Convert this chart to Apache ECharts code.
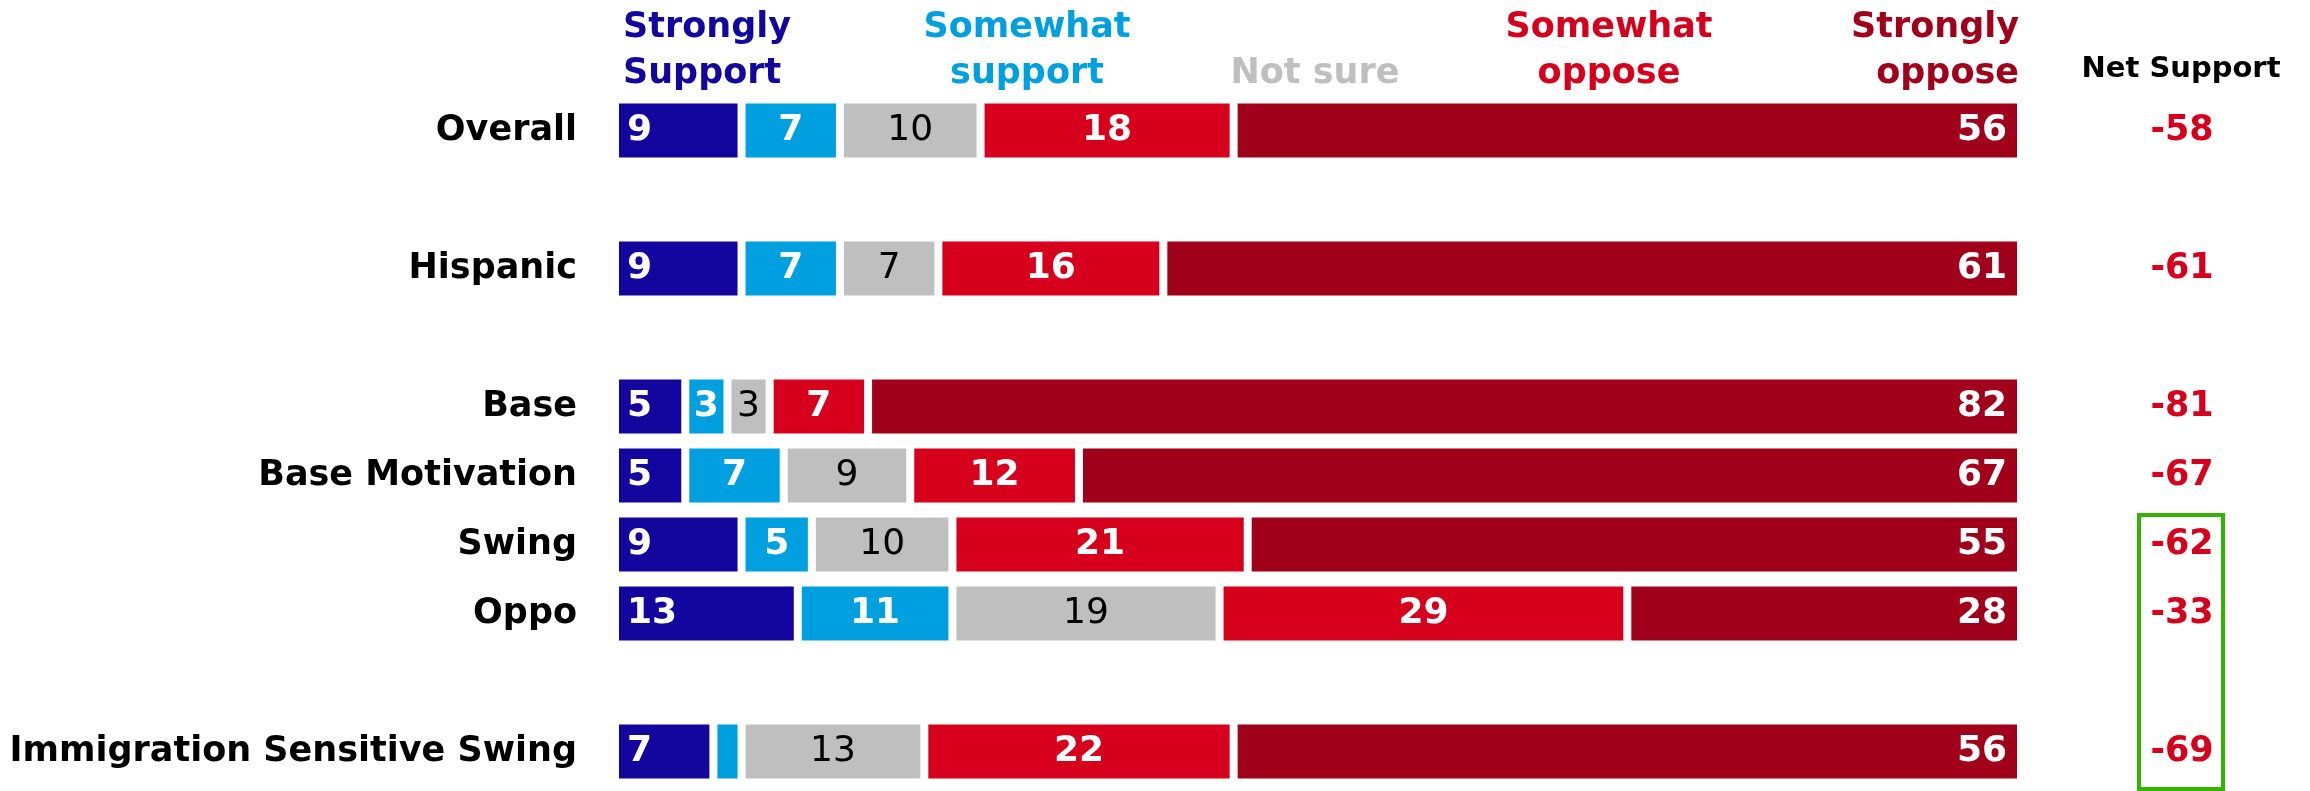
<!DOCTYPE html>
<html>
<head>
<meta charset="utf-8">
<script src="https://cdn.jsdelivr.net/npm/echarts@6/dist/echarts.min.js"></script>
<style>
  html, body { margin: 0; padding: 0; background: #fff; }
  #chart { width: 2310px; height: 791px; }
</style>
</head>
<body>
<div id="chart"></div>
<script>
// blank entries are spacer rows between groups
const groups = ['Overall', ' ', 'Hispanic', '  ', 'Base', 'Base Motivation', 'Swing', 'Oppo', '   ', 'Immigration Sensitive Swing'];

const stronglySupport = [9, null, 9, null, 5, 5, 9, 13, null, 7];
const somewhatSupport = [7, null, 7, null, 3, 7, 5, 11, null, 2];
const notSure         = [10, null, 7, null, 3, 9, 10, 19, null, 13];
const somewhatOppose  = [18, null, 16, null, 7, 12, 21, 29, null, 22];
const stronglyOppose  = [56, null, 61, null, 82, 67, 55, 28, null, 56];
const netSupport      = [-58, null, -61, null, -81, -67, -62, -33, null, -69];

const seriesNames = ['Strongly Support', 'Somewhat support', 'Not sure', 'Somewhat oppose', 'Strongly oppose'];
const headerText  = ['Strongly\nSupport', 'Somewhat\nsupport', 'Not sure', 'Somewhat\noppose', 'Strongly\noppose'];
const colors = ['#12069e', '#009fdf', '#bfbfbf', '#d6001c', '#a0001a'];

const FONT = 'DejaVu Sans';

const chart = echarts.init(document.getElementById('chart'));

function barSeries(idx, data, label) {
  return {
    name: seriesNames[idx],
    type: 'bar',
    stack: 'total',
    data: data,
    barWidth: 62,
    itemStyle: { color: colors[idx], borderColor: '#fff', borderWidth: 4 },
    label: Object.assign({
      show: true,
      fontFamily: FONT,
      fontSize: 36,
      fontWeight: 'bold',
      color: '#fff',
      formatter: p => (p.value > 2 ? p.value : '')
    }, label),
    emphasis: { disabled: true }
  };
}

const headerStyle = { fontFamily: FONT, fontSize: 35, fontWeight: 'bold', lineHeight: 46 };

const option = {
  animation: false,
  grid: { left: 615, right: 289, top: 96, bottom: 5 },
  xAxis: {
    type: 'value', min: 0, max: 100,
    show: false
  },
  yAxis: [
    {
      type: 'category',
      data: groups,
      inverse: true,
      axisLine: { show: false },
      axisTick: { show: false },
      axisLabel: {
        interval: 0,
        margin: 38,
        fontFamily: FONT,
        fontSize: 35,
        fontWeight: 'bold',
        color: '#000'
      }
    },
    {
      type: 'category',
      data: groups,
      inverse: true,
      position: 'right',
      axisLine: { show: false },
      axisTick: { show: false },
      axisLabel: {
        interval: 0,
        margin: 161,
        align: 'center',
        fontFamily: FONT,
        fontSize: 35,
        fontWeight: 'bold',
        color: '#d6001c',
        formatter: (v, i) => (netSupport[i] == null ? '' : String(netSupport[i]))
      }
    }
  ],
  series: [
    barSeries(0, stronglySupport, { position: 'insideLeft', distance: 12 }),
    barSeries(1, somewhatSupport, { position: 'inside' }),
    barSeries(2, notSure, { position: 'inside', color: '#000', fontWeight: 'normal' }),
    barSeries(3, somewhatOppose, { position: 'inside' }),
    barSeries(4, stronglyOppose, { position: 'insideRight', distance: 14 })
  ],
  graphic: [
    { type: 'text', x: 623, y: 51, style: Object.assign({ text: headerText[0], fill: colors[0], align: 'left', verticalAlign: 'middle' }, headerStyle) },
    { type: 'text', x: 1027, y: 51, style: Object.assign({ text: headerText[1], fill: colors[1], align: 'center', verticalAlign: 'middle' }, headerStyle) },
    { type: 'text', x: 1315, y: 74, style: Object.assign({ text: headerText[2], fill: colors[2], align: 'center', verticalAlign: 'middle' }, headerStyle) },
    { type: 'text', x: 1609, y: 51, style: Object.assign({ text: headerText[3], fill: colors[3], align: 'center', verticalAlign: 'middle' }, headerStyle) },
    { type: 'text', x: 2019, y: 51, style: Object.assign({ text: headerText[4], fill: colors[4], align: 'right', verticalAlign: 'middle' }, headerStyle) },
    { type: 'text', x: 2181, y: 69, style: { text: 'Net Support', fill: '#000', align: 'center', verticalAlign: 'middle', fontFamily: FONT, fontSize: 29, fontWeight: 'bold' } },
    { type: 'rect', shape: { x: 2139, y: 515, width: 84, height: 274 }, style: { fill: 'none', stroke: '#33b300', lineWidth: 4 } }
  ]
};

chart.setOption(option);
</script>
</body>
</html>
